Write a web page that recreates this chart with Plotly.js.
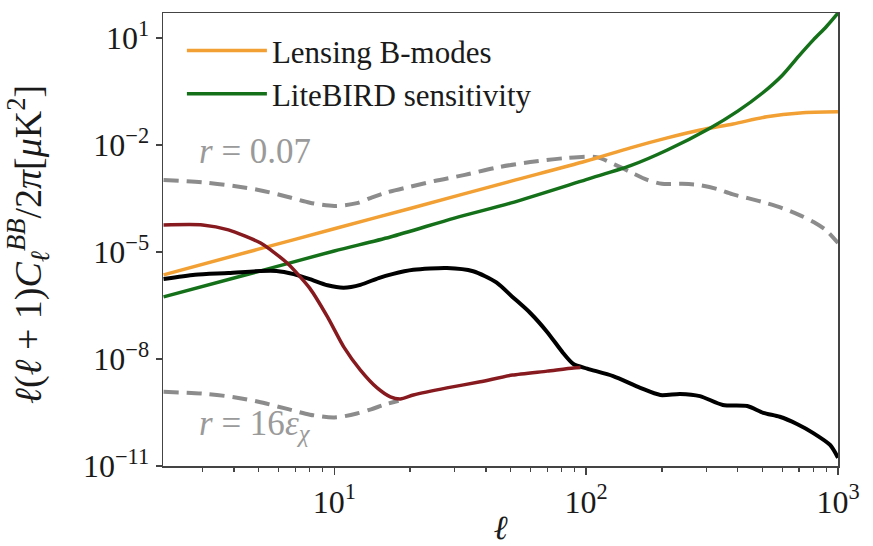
<!DOCTYPE html>
<html>
<head>
<meta charset="utf-8">
<script src="https://cdn.plot.ly/plotly-3.0.1.min.js"></script>
<style>html,body{margin:0;padding:0;background:#fff;}#chart{width:873px;height:546px;}</style>
</head>
<body>
<div id="chart"></div>
<script>
// Lensing B-modes
const ellLens = [2.1, 5, 10, 20, 50, 100, 150, 210, 284, 383, 521, 707, 1000];
const clLens  = [2.29e-6, 1.20e-5, 4.47e-5, 1.66e-4, 9.55e-4, 3.55e-3, 8.32e-3, 1.58e-2, 2.63e-2, 3.89e-2, 6.17e-2, 7.94e-2, 8.51e-2];

// LiteBIRD sensitivity
const ellLB = [2.1, 5.1, 10, 16.7, 30, 50, 100, 150, 210, 310, 400, 500, 600, 700, 800, 900, 1000];
const clLB  = [5.50e-7, 2.95e-6, 1.07e-5, 2.63e-5, 8.91e-5, 2.34e-4, 1.07e-3, 2.63e-3, 7.24e-3, 2.95e-2, 8.91e-2, 0.282, 0.891, 3.16, 9.0, 21.0, 50.0];

// r = 0.07 tensor spectrum
const ellR007 = [2.1, 3, 4, 5, 6.5, 8, 10, 12.3, 14, 16, 20, 25, 33, 45, 60, 82, 110, 130, 150, 175, 200, 240, 280, 330, 380, 450, 520, 600, 700, 800, 900, 1000];
const clR007  = [1.05e-3, 8.91e-4, 7.08e-4, 5.50e-4, 3.55e-4, 2.40e-4, 1.95e-4, 2.34e-4, 3.31e-4, 4.57e-4, 6.76e-4, 9.77e-4, 1.45e-3, 2.40e-3, 3.31e-3, 4.27e-3, 4.57e-3, 2.82e-3, 1.74e-3, 1.05e-3, 8.13e-4, 8.13e-4, 7.59e-4, 5.89e-4, 4.17e-4, 3.09e-4, 2.34e-4, 1.70e-4, 1.10e-4, 6.92e-5, 3.98e-5, 1.78e-5];

// r = 16 eps_chi tensor spectrum (visible part)
const ellR16 = [2.1, 3, 4, 5, 6.5, 8, 10, 12.3, 14, 16, 18];
const clR16  = [1.20e-9, 1.07e-9, 8.51e-10, 6.31e-10, 3.98e-10, 2.75e-10, 2.29e-10, 2.95e-10, 3.89e-10, 5.37e-10, 6.76e-10];

// dark red curve
const ellRed = [2.1, 3, 3.8, 5.1, 6.5, 8, 9.4, 10.9, 12.7, 14.8, 16.7, 18.3, 20.6, 28, 38, 51, 70, 89, 95];
const clRed  = [5.75e-5, 5.75e-5, 4.17e-5, 1.78e-5, 4.90e-6, 9.55e-7, 1.51e-7, 2.19e-8, 4.90e-9, 1.55e-9, 8.71e-10, 7.59e-10, 9.77e-10, 1.55e-9, 2.29e-9, 3.55e-9, 4.57e-9, 5.62e-9, 5.75e-9];

// black curve
const ellBlack = [2.1, 2.8, 3.8, 5.1, 5.9, 6.9, 8, 9.4, 10.9, 12.7, 15, 17, 20.6, 28, 35.6, 44, 51, 60, 70, 81, 89, 101, 128, 164, 197, 236, 283, 349, 436, 505, 587, 687, 795, 930, 1000];
const clBlack  = [1.74e-6, 2.29e-6, 2.57e-6, 2.95e-6, 2.95e-6, 2.40e-6, 1.74e-6, 1.17e-6, 1.00e-6, 1.20e-6, 1.86e-6, 2.40e-6, 3.16e-6, 3.55e-6, 2.88e-6, 1.41e-6, 5.50e-7, 1.95e-7, 5.75e-8, 1.48e-8, 7.24e-9, 5.37e-9, 3.31e-9, 1.55e-9, 9.77e-10, 1.05e-9, 9.12e-10, 5.13e-10, 4.79e-10, 3.09e-10, 2.40e-10, 1.51e-10, 8.51e-11, 3.89e-11, 1.70e-11];

// axis ticks
const xTickVals = [10, 100, 1000];
const xTickText = ['10<sup>1</sup>', '10<sup>2</sup>', '10<sup>3</sup>'];
const yTickVals = [1e-11, 1e-8, 1e-5, 1e-2, 10];
const yTickText = ['10<sup>−11</sup>', '10<sup>−8</sup>', '10<sup>−5</sup>', '10<sup>−2</sup>', '10<sup>1</sup>'];

const legendNames = ['Lensing B-modes', 'LiteBIRD sensitivity'];
const xTitle = '<i>ℓ</i>';
const yTitle = '<i>ℓ</i>(<i>ℓ</i> + 1)<i>C</i><sub><i>ℓ</i></sub><sup><i>BB</i></sup>/2<i>π</i>[<i>μ</i>K<sup>2</sup>]';
const annR007 = '<i>r</i> = 0.07';
const annR16 = '<i>r</i> = 16<i>ε</i><sub><i>χ</i></sub>';

const SERIF = "'Liberation Serif', 'Times New Roman', Times, serif";
const ORANGE = '#F2A033', GREEN = '#15701A', DARKRED = '#861A1F', GRAY = '#8C8C8C';

const traces = [
  {x: ellR007, y: clR007, mode: 'lines', line: {color: GRAY, width: 4, dash: '15px,8px', shape: 'spline', smoothing: 0.8}, showlegend: false, hoverinfo: 'skip'},
  {x: ellR16, y: clR16, mode: 'lines', line: {color: GRAY, width: 4, dash: '15px,8px', shape: 'spline', smoothing: 0.8}, showlegend: false, hoverinfo: 'skip'},
  {x: ellLens, y: clLens, mode: 'lines', name: legendNames[0], legendgroup: 'a', line: {color: ORANGE, width: 3.5, shape: 'spline', smoothing: 0.8}},
  {x: ellLB, y: clLB, mode: 'lines', name: legendNames[1], legendgroup: 'b', line: {color: GREEN, width: 3.5, shape: 'spline', smoothing: 0.8}},
  {x: ellBlack, y: clBlack, mode: 'lines', line: {color: '#000000', width: 4, shape: 'spline', smoothing: 0.7}, showlegend: false},
  {x: ellRed, y: clRed, mode: 'lines', line: {color: DARKRED, width: 3.5, shape: 'spline', smoothing: 0.6}, showlegend: false}
];

const layout = {
  width: 873, height: 546,
  margin: {l: 163, r: 35, t: 13, b: 80},
  paper_bgcolor: '#ffffff', plot_bgcolor: '#ffffff',
  font: {family: SERIF, color: '#1a1a1a'},
  showlegend: true,
  legend: {x: 0.028, y: 0.976, xanchor: 'left', yanchor: 'top', bgcolor: 'rgba(255,255,255,0)',
           itemwidth: 80, font: {family: SERIF, size: 31, color: '#1a1a1a'}, traceorder: 'grouped', tracegroupgap: 0},
  xaxis: {
    type: 'log', range: [0.32, 3], tickmode: 'array', tickvals: xTickVals, ticktext: xTickText,
    showgrid: false, zeroline: false,
    showline: true, linecolor: '#444', linewidth: 1.5, mirror: true,
    ticks: 'outside', ticklen: 7, tickwidth: 1.5, tickcolor: '#444',
    tickfont: {family: SERIF, size: 32, color: '#1a1a1a'},
    minor: {dtick: 'D1', ticks: 'outside', ticklen: 4, tickwidth: 1.2, tickcolor: '#444', showgrid: false},
    title: {text: xTitle, font: {family: SERIF, size: 34, color: '#1a1a1a'}, standoff: 6}
  },
  yaxis: {
    type: 'log', range: [-11, 1.7], tickmode: 'array', tickvals: yTickVals, ticktext: yTickText,
    showgrid: false, zeroline: false,
    showline: true, linecolor: '#444', linewidth: 1.5, mirror: true,
    ticks: 'outside', ticklen: 6, tickwidth: 1.5, tickcolor: '#444',
    tickfont: {family: SERIF, size: 32, color: '#1a1a1a'}
  },
  annotations: [
    {xref: 'paper', yref: 'paper', x: -0.2, y: 0.488, xanchor: 'center', yanchor: 'middle', textangle: -90, showarrow: false,
     text: yTitle, font: {family: SERIF, size: 38, color: '#1a1a1a'}},
    {xref: 'paper', yref: 'paper', x: 0.05, y: 0.695, xanchor: 'left', yanchor: 'middle', showarrow: false,
     text: annR007, font: {family: SERIF, size: 35, color: '#9a9a9a'}},
    {xref: 'paper', yref: 'paper', x: 0.05, y: 0.09, xanchor: 'left', yanchor: 'middle', showarrow: false,
     text: annR16, font: {family: SERIF, size: 35, color: '#9a9a9a'}}
  ]
};

Plotly.newPlot('chart', traces, layout, {displayModeBar: false, staticPlot: true});
</script>
</body>
</html>
